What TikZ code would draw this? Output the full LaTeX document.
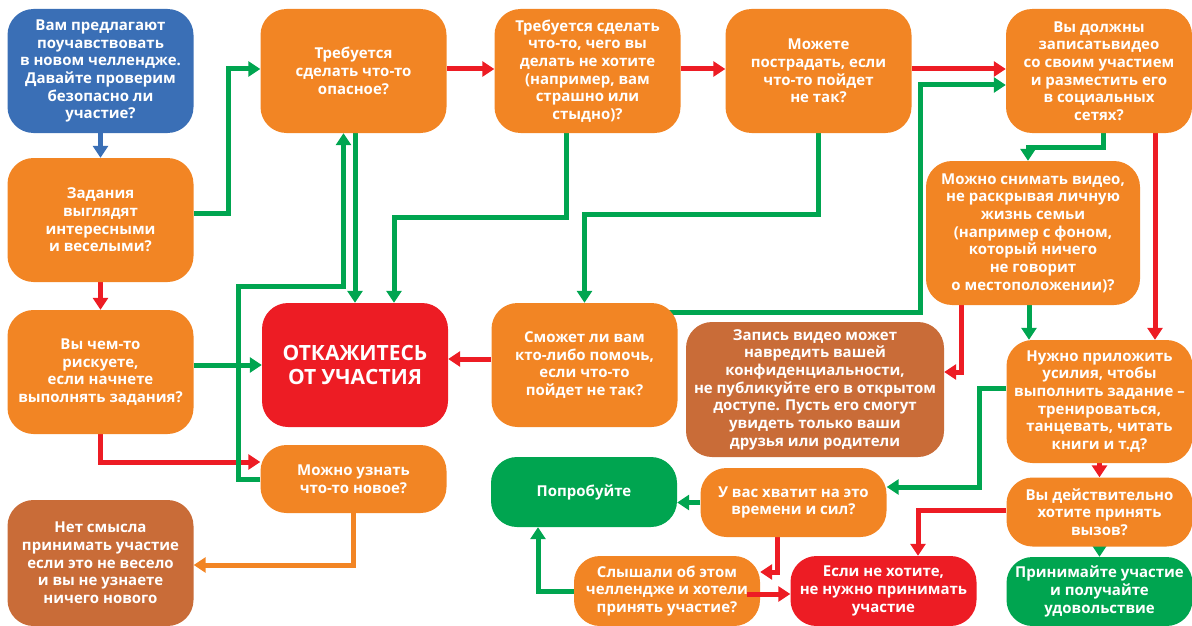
\documentclass[tikz,border=0pt]{standalone}
\usepackage{fontspec}
\setmainfont{Open Sans}
\usetikzlibrary{arrows.meta,backgrounds}
\definecolor{BoxOrange}{HTML}{F28524}
\definecolor{BoxBlue}{HTML}{3A6FB6}
\definecolor{BoxRed}{HTML}{ED1C24}
\definecolor{BoxGreen}{HTML}{00A550}
\definecolor{BoxBrown}{HTML}{C96C38}
\tikzset{
  BaseNode/.style = {align=center, inner sep=2pt, text centered, rounded corners=26pt, text=white,
                     font=\bfseries\fontsize{15}{17.7}\selectfont},
  StartNode/.style = {BaseNode, fill=BoxBlue},
  QNode/.style = {BaseNode, fill=BoxOrange},
  StopNode/.style = {BaseNode, fill=BoxRed},
  GoNode/.style = {BaseNode, fill=BoxGreen},
  TipNode/.style = {BaseNode, fill=BoxBrown},
  BigBox/.style = {minimum width=186pt, minimum height=124pt},
  SmallBox/.style = {minimum width=186pt, minimum height=69pt},
  BaseArrow/.style = {->, line width=5pt},
  YesArrow/.style = {BaseArrow, draw=BoxGreen},
  NoArrow/.style = {BaseArrow, draw=BoxRed},
  StartArrow/.style = {BaseArrow, draw=BoxBlue},
  TipArrow/.style = {BaseArrow, draw=BoxOrange},
}
\begin{document}
\begin{tikzpicture}[x=1pt, y=-1pt, >={Triangle[length=12pt,width=15pt]}]
    \useasboundingbox (0,0) rectangle (1192,626);
    \node [StartNode, BigBox] (start) at (100.5,71) {Вам предлагают\\поучавствовать\\в новом челлендже.\\Давайте проверим\\безопасно ли\\участие?};
    \node [QNode, BigBox] (fun) at (100.5,220) {Задания\\выглядят\\интересными\\и веселыми?};
    \node [QNode, BigBox] (risk) at (100.5,372) {Вы чем-то\\рискуете,\\если начнете\\выполнять задания?};
    \node [TipNode, BigBox, minimum height=126pt] (nomean) at (100.5,563) {Нет смысла\\принимать участие\\если это не весело\\и вы не узнаете\\ничего нового};
    \node [QNode, BigBox] (danger) at (353.5,71) {Требуется\\сделать что-то\\опасное?};
    \node [StopNode, BigBox, font=\bfseries\fontsize{21}{23.5}\selectfont] (refuse) at (355,365) {ОТКАЖИТЕСЬ\\ОТ УЧАСТИЯ};
    \node [QNode, SmallBox, minimum height=68pt] (learn) at (353.5,479) {Можно узнать\\что-то новое?};
    \node [QNode, BigBox] (unwanted) at (587.5,71) {Требуется сделать\\что-то, чего вы\\делать не хотите\\(например, вам\\страшно или\\стыдно)?};
    \node [QNode, BigBox] (hurt) at (818.5,71) {Можете\\пострадать, если\\что-то пойдет\\не так?};
    \node [QNode, BigBox] (video) at (1099,71) {Вы должны\\записатьвидео\\со своим участием\\и разместить его\\в социальных\\сетях?};
    \node [QNode, minimum width=214pt, minimum height=144pt] (privacy) at (1033,233) {Можно снимать видео,\\не раскрывая личную\\жизнь семьи\\(например с фоном,\\который ничего\\не говорит\\о местоположении)?};
    \node [QNode, BigBox] (help) at (584.5,365) {Сможет ли вам\\кто-либо помочь,\\если что-то\\пойдет не так?};
    \node [TipNode, minimum width=258pt, minimum height=135pt] (warn) at (815,389.5) {Запись видео может\\навредить вашей\\конфиденциальности,\\не публикуйте его в открытом\\доступе. Пусть его смогут\\увидеть только ваши\\друзья или родители};
    \node [QNode, BigBox, minimum height=123pt] (effort) at (1099.5,401.5) {Нужно приложить\\усилия, чтобы\\выполнить задание –\\тренироваться,\\танцевать, читать\\книги и т.д?};
    \node [GoNode, SmallBox, minimum height=70pt] (try) at (584,492) {Попробуйте};
    \node [QNode, SmallBox] (time) at (793.5,502.5) {У вас хватит на это\\времени и сил?};
    \node [QNode, SmallBox, minimum height=70pt] (heard) at (667,591) {Слышали об этом\\челлендже и хотели\\принять участие?};
    \node [StopNode, SmallBox, minimum height=70pt] (notwant) at (883.5,591) {Если не хотите,\\не нужно принимать\\участие};
    \node [QNode, SmallBox] (really) at (1099.5,512) {Вы действительно\\хотите принять\\вызов?};
    \node [GoNode, SmallBox] (accept) at (1099.5,591.5) {Принимайте участие\\и получайте\\удовольствие};

    \begin{scope}[on background layer]
    \draw [StartArrow] (start) -- (fun);
    \draw [YesArrow] ([yshift=7pt]fun.east) -- ++(35,0) |- ([yshift=2pt]danger.west);
    \draw [NoArrow] (fun) -- (risk);
    \draw [YesArrow] (risk.east |- refuse.west) -- (refuse.west);
    \draw [NoArrow] (risk.south) |- ([yshift=17pt]learn.west);
    \draw [YesArrow] (learn.west) -- ++(-22,0) -- ++(0,-193) -| ([xshift=-10pt]danger.south);
    \draw [YesArrow] (refuse.north |- danger.south) -- (refuse.north);
    \draw [YesArrow] ([xshift=-21pt]unwanted.south) -- ++(0,84) -| ([xshift=39pt]refuse.north);
    \draw [NoArrow] ([yshift=2pt]danger.east) -- ([yshift=2pt]unwanted.west);
    \draw [NoArrow] ([yshift=2pt]unwanted.east) -- ([yshift=2pt]hurt.west);
    \draw [YesArrow] (hurt.south) -- ++(0,81) -| (help.north);
    \draw [NoArrow] ([yshift=2pt]hurt.east) -- ([yshift=2pt]video.west);
    \draw [NoArrow] ([yshift=6pt]help.west) -- ([yshift=6pt]refuse.east);
    \draw [YesArrow] ([xshift=-12pt,yshift=-10pt]help.north east) -- ++(255,0) |- ([yshift=-14pt]video.west);
    \draw [YesArrow] ([xshift=4pt]video.south) -- ++(0,14) -| ([xshift=-5pt]privacy.north);
    \draw [NoArrow] ([xshift=56pt]video.south) -- ([xshift=56pt]video.south |- effort.north);
    \draw [NoArrow] ([xshift=-72pt]privacy.south) |- ([yshift=17.5pt]warn.east);
    \draw [YesArrow] ([xshift=-4pt]privacy.south) -- ([xshift=-4pt]privacy.south |- effort.north);
    \draw [YesArrow] ([yshift=13.5pt]effort.west) -- ++(-27,0) |- ([yshift=15.5pt]time.east);
    \draw [NoArrow] (effort) -- (really);
    \draw [NoArrow] ([yshift=2pt]really.west) -| ([xshift=34.5pt]notwant.north);
    \draw [YesArrow] (really) -- (accept);
    \draw [YesArrow] (time.west) -- (time.west -| try.east);
    \draw [NoArrow] ([xshift=-16.5pt]time.south) |- ([yshift=19pt]heard.east);
    \draw [YesArrow] (heard.west) -| ([xshift=-46pt]try.south);
    \draw [TipArrow] (learn.south) |- ([yshift=-2pt]nomean.east);
    \end{scope}
    \draw [NoArrow] ([xshift=-13pt,yshift=-3pt]heard.east) -- ([yshift=-3pt]notwant.west);
\end{tikzpicture}
\end{document}
